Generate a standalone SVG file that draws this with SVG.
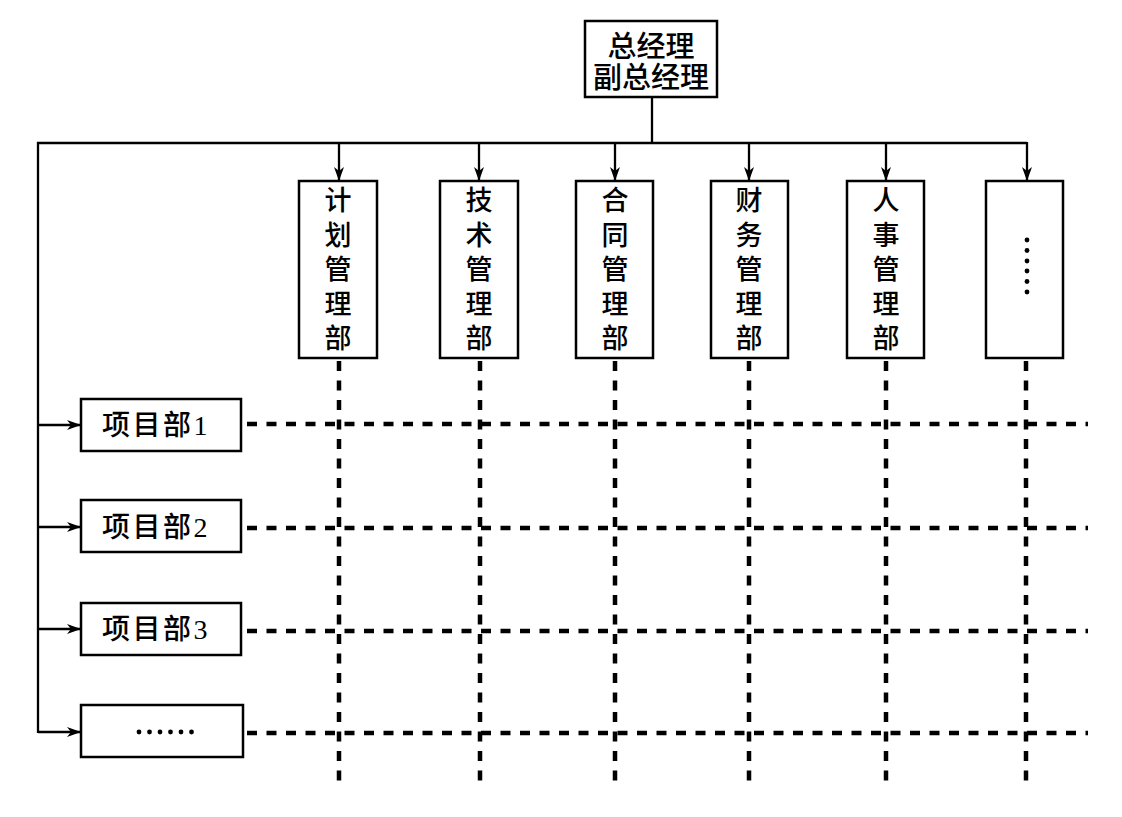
<svg xmlns="http://www.w3.org/2000/svg" width="1122" height="817" viewBox="0 0 1122 817">
<style>
.box{fill:#fff;stroke:#000;stroke-width:2.5}
.ln{fill:none;stroke:#000;stroke-width:2.3}
.dash{fill:none;stroke:#000;stroke-width:4.5;stroke-dasharray:10 9.5}
.t{font-family:"Liberation Serif","Noto Sans CJK SC",serif;font-size:28px;font-weight:500;fill:#000}
.tc{font-family:"Noto Sans CJK SC",sans-serif;font-size:27px;font-weight:500;fill:#000;text-anchor:middle}
</style>
<defs>
<marker id="ah" viewBox="0 0 14 10" refX="14" refY="5" markerWidth="14" markerHeight="10" markerUnits="userSpaceOnUse" orient="auto">
<path d="M0,0 L14,5 L0,10 L4,5 Z" fill="#000"/>
</marker>
</defs>
<rect width="1122" height="817" fill="#fff"/>
<g id="grid">
<line class="dash" x1="247" y1="424" x2="1088" y2="424"/>
<line class="dash" x1="247" y1="528" x2="1088" y2="528"/>
<line class="dash" x1="247" y1="631" x2="1088" y2="631"/>
<line class="dash" x1="247" y1="733" x2="1088" y2="733"/>
<line class="dash" x1="339" y1="361" x2="339" y2="788"/>
<line class="dash" x1="480" y1="361" x2="480" y2="788"/>
<line class="dash" x1="615" y1="361" x2="615" y2="788"/>
<line class="dash" x1="749" y1="361" x2="749" y2="788"/>
<line class="dash" x1="886" y1="361" x2="886" y2="788"/>
<line class="dash" x1="1026" y1="361" x2="1026" y2="788"/>
</g>
<g id="connectors">
<polyline class="ln" points="652,97 652,143"/>
<polyline class="ln" points="1027,143 38,143 38,733"/>
<line class="ln" x1="339" y1="143" x2="339" y2="181" marker-end="url(#ah)"/>
<line class="ln" x1="479" y1="143" x2="479" y2="181" marker-end="url(#ah)"/>
<line class="ln" x1="615" y1="143" x2="615" y2="181" marker-end="url(#ah)"/>
<line class="ln" x1="749" y1="143" x2="749" y2="181" marker-end="url(#ah)"/>
<line class="ln" x1="886" y1="143" x2="886" y2="181" marker-end="url(#ah)"/>
<line class="ln" x1="1027" y1="142" x2="1027" y2="181" marker-end="url(#ah)"/>
<line class="ln" x1="38" y1="425" x2="81" y2="425" marker-end="url(#ah)"/>
<line class="ln" x1="38" y1="527" x2="81" y2="527" marker-end="url(#ah)"/>
<line class="ln" x1="38" y1="629" x2="81" y2="629" marker-end="url(#ah)"/>
<line class="ln" x1="38" y1="732" x2="81" y2="732" marker-end="url(#ah)"/>
</g>
<g id="gm">
<rect class="box" x="585" y="21" width="132" height="76"/>
<text class="tc" x="651" y="57" style="font-size:29px">总经理</text>
<text class="tc" x="651" y="88" style="font-size:29px">副总经理</text>
</g>
<g id="d1">
<rect class="box" x="299" y="181" width="78" height="177"/>
<text class="tc" x="338"><tspan x="338" y="210">计</tspan><tspan x="338" y="244.5">划</tspan><tspan x="338" y="279">管</tspan><tspan x="338" y="313.5">理</tspan><tspan x="338" y="348">部</tspan></text>
</g>
<g id="d2">
<rect class="box" x="440" y="181" width="78" height="177"/>
<text class="tc" x="479"><tspan x="479" y="210">技</tspan><tspan x="479" y="244.5">术</tspan><tspan x="479" y="279">管</tspan><tspan x="479" y="313.5">理</tspan><tspan x="479" y="348">部</tspan></text>
</g>
<g id="d3">
<rect class="box" x="576" y="181" width="77" height="177"/>
<text class="tc" x="615"><tspan x="615" y="210">合</tspan><tspan x="615" y="244.5">同</tspan><tspan x="615" y="279">管</tspan><tspan x="615" y="313.5">理</tspan><tspan x="615" y="348">部</tspan></text>
</g>
<g id="d4">
<rect class="box" x="711" y="181" width="77" height="177"/>
<text class="tc" x="749"><tspan x="749" y="210">财</tspan><tspan x="749" y="244.5">务</tspan><tspan x="749" y="279">管</tspan><tspan x="749" y="313.5">理</tspan><tspan x="749" y="348">部</tspan></text>
</g>
<g id="d5">
<rect class="box" x="847" y="181" width="77" height="177"/>
<text class="tc" x="886"><tspan x="886" y="210">人</tspan><tspan x="886" y="244.5">事</tspan><tspan x="886" y="279">管</tspan><tspan x="886" y="313.5">理</tspan><tspan x="886" y="348">部</tspan></text>
</g>
<g id="d6">
<rect class="box" x="986" y="181" width="77" height="177"/>
<g fill="#000">
<circle cx="1027" cy="240" r="2.4"/><circle cx="1027" cy="250.5" r="2.4"/><circle cx="1027" cy="261" r="2.4"/><circle cx="1027" cy="271" r="2.4"/><circle cx="1027" cy="281.5" r="2.4"/><circle cx="1027" cy="292" r="2.4"/>
</g>
</g>
<g id="p1">
<rect class="box" x="81" y="399" width="160" height="52"/>
<text class="t" x="102" y="435" style="letter-spacing:2.5px">项目部1</text>
</g>
<g id="p2">
<rect class="box" x="81" y="500" width="160" height="52"/>
<text class="t" x="102" y="537" style="letter-spacing:2.5px">项目部2</text>
</g>
<g id="p3">
<rect class="box" x="81" y="603" width="160" height="52"/>
<text class="t" x="102" y="639" style="letter-spacing:2.5px">项目部3</text>
</g>
<g id="p4">
<rect class="box" x="81" y="705" width="162" height="52"/>
<g fill="#000">
<circle cx="139" cy="732" r="2.4"/><circle cx="149.5" cy="732" r="2.4"/><circle cx="160" cy="732" r="2.4"/><circle cx="170.5" cy="732" r="2.4"/><circle cx="181" cy="732" r="2.4"/><circle cx="191.5" cy="732" r="2.4"/>
</g>
</g>
</svg>
